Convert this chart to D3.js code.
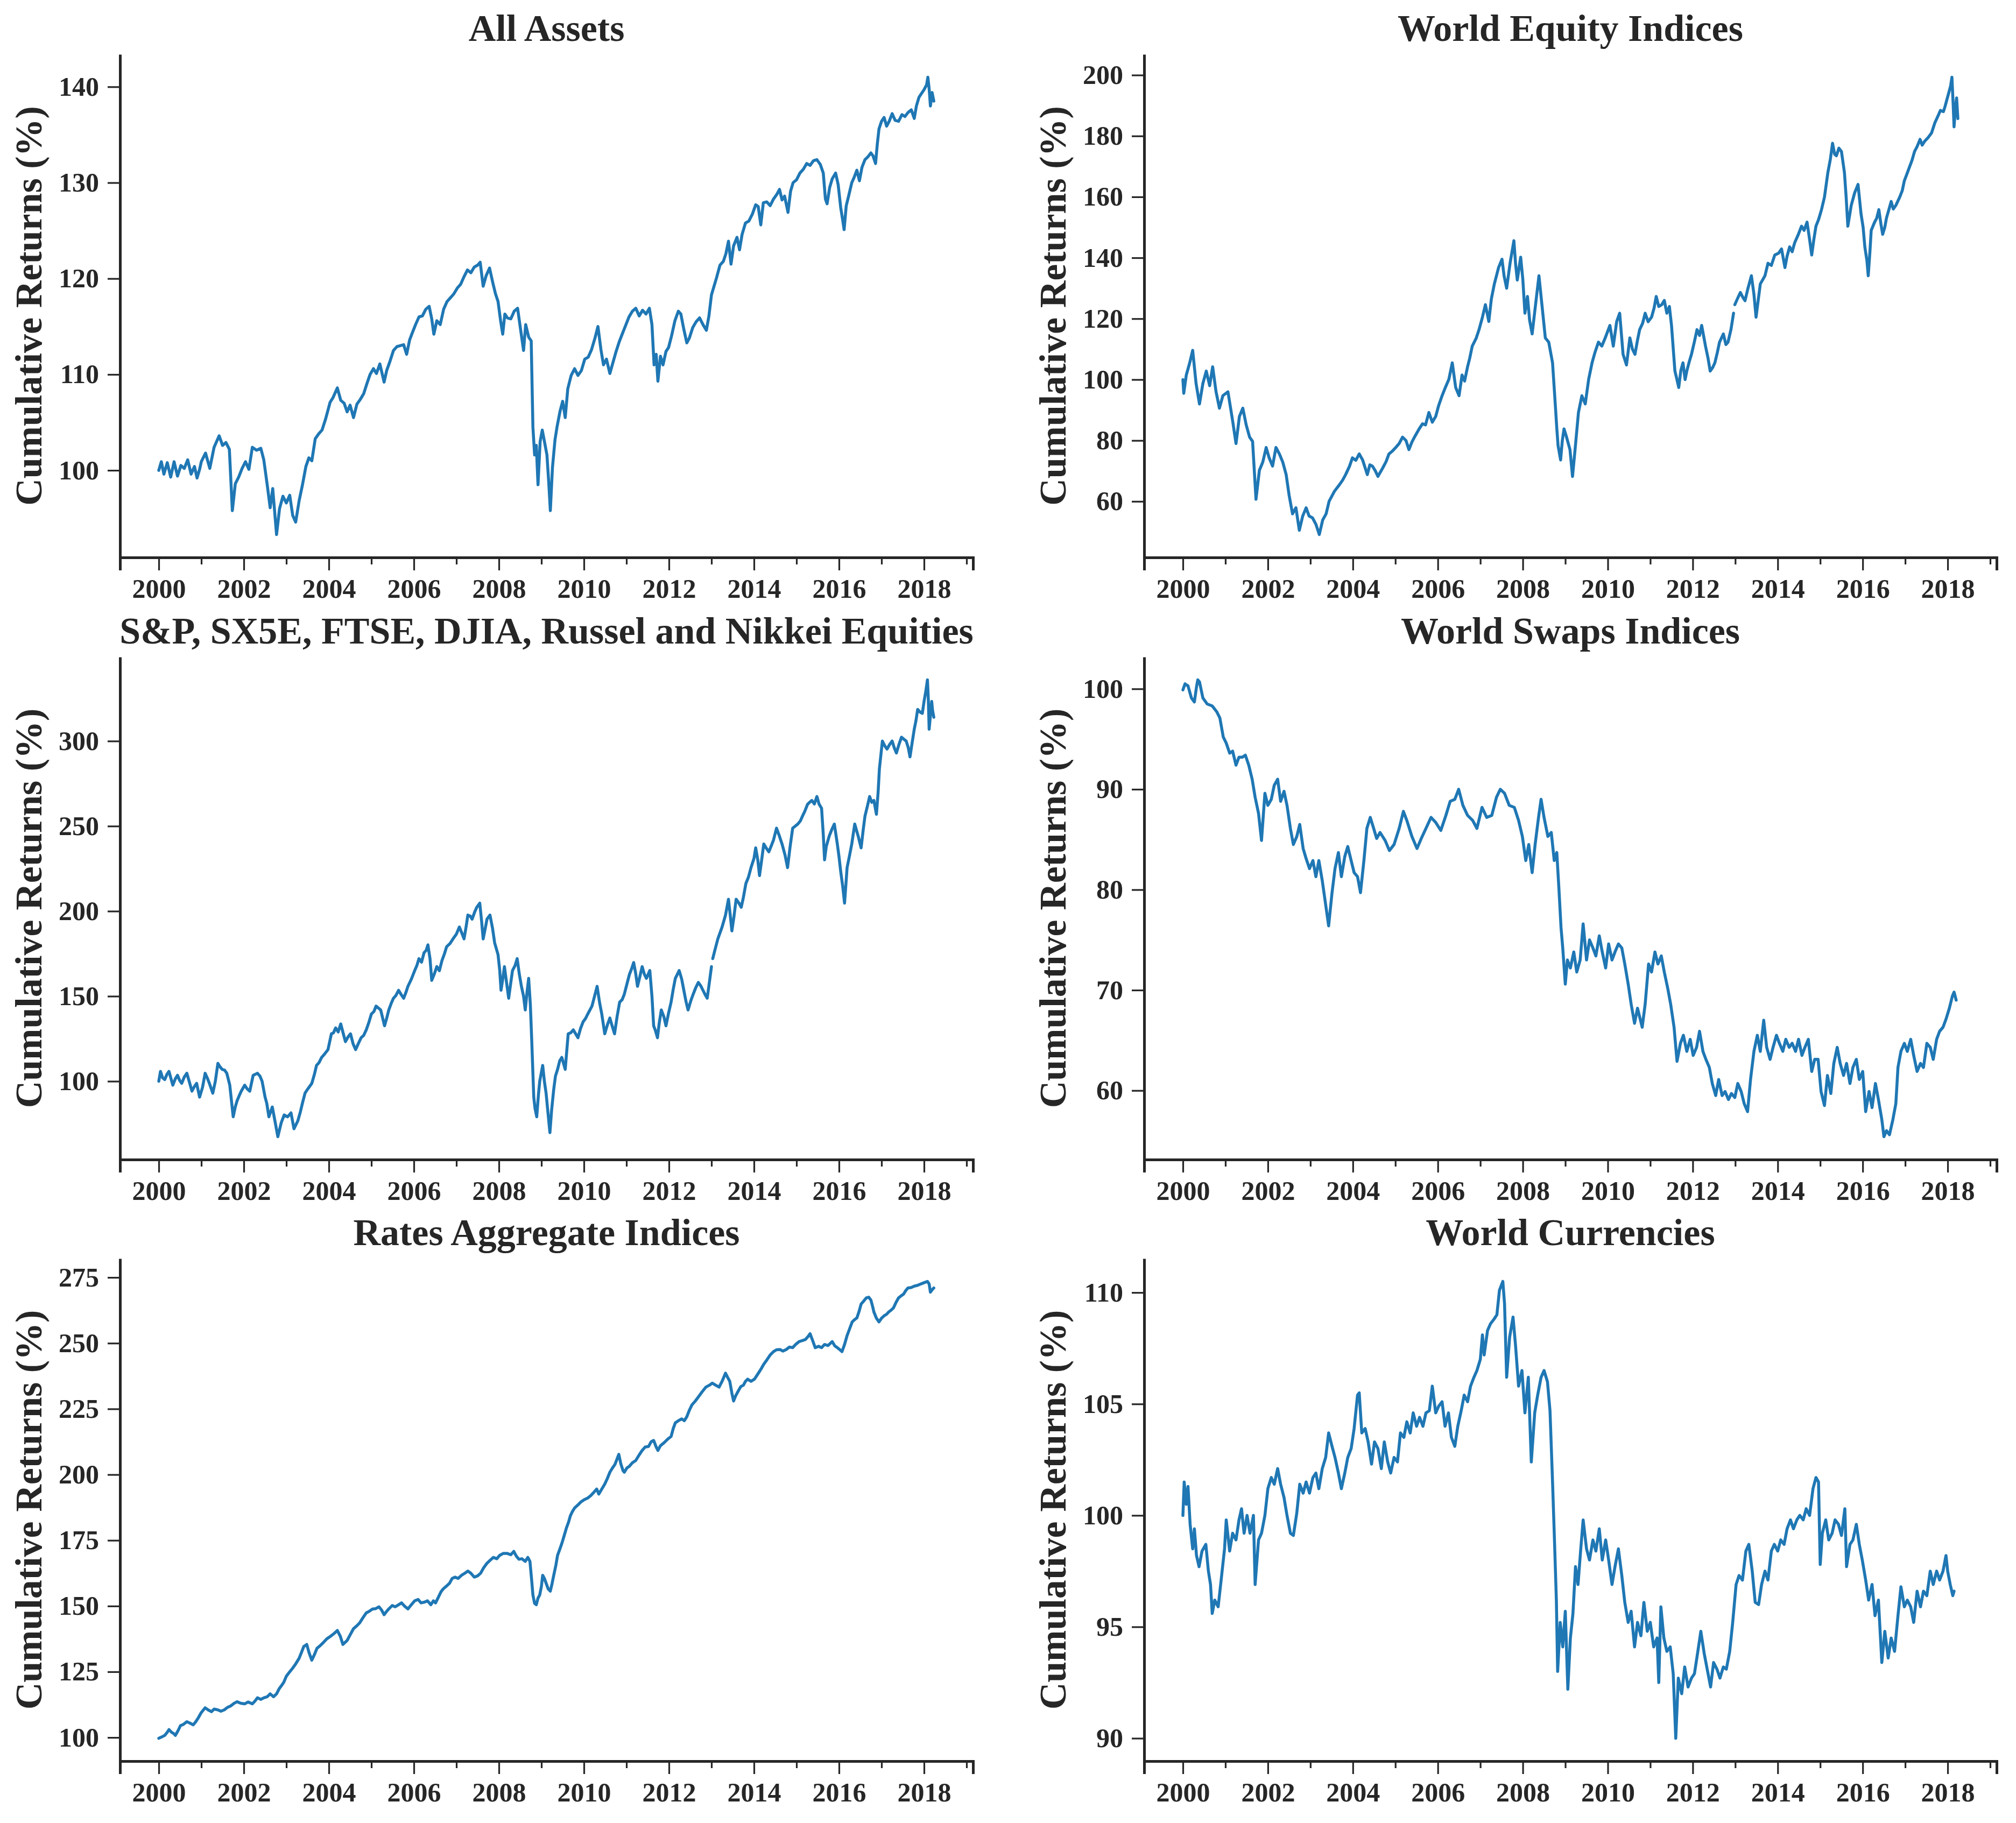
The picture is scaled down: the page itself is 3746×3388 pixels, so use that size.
<!DOCTYPE html>
<html>
<head>
<meta charset="utf-8">
<script src="https://cdn.jsdelivr.net/npm/d3@7"></script>
<style>
html, body { margin: 0; padding: 0; background: #fff; }
svg text { font-family: "Liberation Serif", "Times New Roman", serif; font-weight: bold; fill: #262626; }
</style>
</head>
<body>
<svg id="chart" width="3746" height="3388"></svg>
<script>
// [decimal year, cumulative return %]; null = break in the line
const allAssets = [[2000.00,100.0],[2000.06,100.9],[2000.12,99.6],[2000.2,100.8],[2000.28,99.3],[2000.36,100.9],[2000.44,99.4],[2000.52,100.5],[2000.6,100.2],[2000.68,101.1],[2000.76,99.6],[2000.84,100.4],[2000.9,99.2],[2000.96,100.1],[2001.0,100.9],[2001.1,101.8],[2001.2,100.2],[2001.3,102.4],[2001.42,103.6],[2001.5,102.6],[2001.58,102.9],[2001.66,102.2],[2001.73,95.8],[2001.8,98.6],[2001.88,99.3],[2001.96,100.2],[2002.04,100.9],[2002.12,100.1],[2002.2,102.4],[2002.3,102.1],[2002.4,102.3],[2002.47,101.1],[2002.55,98.5],[2002.62,96.1],[2002.68,98.1],[2002.77,93.3],[2002.84,96.0],[2002.92,97.3],[2003.0,96.6],[2003.08,97.4],[2003.15,95.3],[2003.22,94.6],[2003.3,96.8],[2003.38,98.5],[2003.46,100.4],[2003.53,101.3],[2003.6,101.0],[2003.68,103.3],[2003.76,103.8],[2003.84,104.2],[2003.92,105.3],[2004.03,107.1],[2004.1,107.6],[2004.2,108.6],[2004.28,107.3],[2004.36,107.0],[2004.43,106.1],[2004.5,106.8],[2004.58,105.5],[2004.66,106.9],[2004.74,107.4],[2004.82,108.0],[2004.9,109.1],[2004.97,110.0],[2005.05,110.6],[2005.12,110.1],[2005.2,111.1],[2005.3,109.2],[2005.36,110.4],[2005.44,111.4],[2005.52,112.5],[2005.6,112.9],[2005.68,113.0],[2005.76,113.1],[2005.83,112.1],[2005.9,113.6],[2005.96,114.3],[2006.04,115.2],[2006.12,116.0],[2006.2,116.1],[2006.28,116.8],[2006.36,117.1],[2006.42,115.8],[2006.47,114.2],[2006.54,115.6],[2006.62,115.2],[2006.7,116.8],[2006.78,117.6],[2006.86,118.0],[2006.94,118.4],[2007.02,119.0],[2007.1,119.4],[2007.18,120.2],[2007.26,120.9],[2007.34,120.6],[2007.42,121.2],[2007.5,121.4],[2007.56,121.7],[2007.63,119.2],[2007.7,120.3],[2007.78,121.1],[2007.86,119.5],[2007.92,118.4],[2007.98,117.6],[2008.04,115.6],[2008.09,114.2],[2008.14,116.3],[2008.2,115.9],[2008.28,115.8],[2008.36,116.6],[2008.44,116.9],[2008.5,115.0],[2008.58,112.5],[2008.63,115.2],[2008.7,113.9],[2008.76,113.5],[2008.8,104.5],[2008.84,101.6],[2008.88,102.6],[2008.92,98.5],[2008.97,103.0],[2009.02,104.2],[2009.08,102.8],[2009.13,101.6],[2009.17,98.9],[2009.21,95.8],[2009.26,100.3],[2009.32,103.2],[2009.37,104.6],[2009.44,106.2],[2009.5,107.2],[2009.56,105.5],[2009.62,108.5],[2009.7,109.9],[2009.78,110.6],[2009.86,109.9],[2009.94,110.4],[2010.02,111.6],[2010.1,111.8],[2010.18,112.6],[2010.26,113.8],[2010.33,115.0],[2010.4,112.6],[2010.46,111.0],[2010.53,111.6],[2010.61,110.1],[2010.68,111.2],[2010.75,112.3],[2010.83,113.4],[2010.9,114.2],[2010.98,115.1],[2011.06,116.0],[2011.14,116.6],[2011.22,116.9],[2011.3,116.1],[2011.38,116.7],[2011.46,116.3],[2011.54,116.9],[2011.6,115.2],[2011.65,111.0],[2011.7,112.1],[2011.74,109.3],[2011.8,111.9],[2011.86,111.0],[2011.93,112.4],[2011.99,112.8],[2012.06,114.0],[2012.14,115.6],[2012.22,116.6],[2012.28,116.3],[2012.35,114.7],[2012.42,113.3],[2012.48,113.8],[2012.56,114.9],[2012.64,115.5],[2012.72,115.9],[2012.8,115.2],[2012.88,114.6],[2012.94,116.1],[2013.0,118.3],[2013.06,119.2],[2013.12,120.1],[2013.2,121.4],[2013.28,121.8],[2013.34,122.6],[2013.4,123.9],[2013.46,121.5],[2013.52,123.4],[2013.6,124.3],[2013.66,123.0],[2013.72,124.6],[2013.8,125.8],[2013.88,126.0],[2013.96,126.7],[2014.04,127.7],[2014.1,127.5],[2014.16,125.6],[2014.22,127.9],[2014.3,128.0],[2014.38,127.6],[2014.46,128.3],[2014.54,128.8],[2014.6,129.3],[2014.66,128.2],[2014.72,128.6],[2014.8,126.9],[2014.86,129.1],[2014.92,130.0],[2015.0,130.3],[2015.08,131.0],[2015.16,131.4],[2015.24,132.0],[2015.32,131.8],[2015.4,132.3],[2015.48,132.4],[2015.56,131.9],[2015.63,131.0],[2015.68,128.3],[2015.72,127.8],[2015.78,129.5],[2015.84,130.4],[2015.92,131.0],[2015.98,129.8],[2016.04,127.4],[2016.09,126.0],[2016.12,125.1],[2016.17,127.6],[2016.22,128.5],[2016.3,130.0],[2016.36,130.6],[2016.42,131.3],[2016.48,130.2],[2016.54,131.6],[2016.61,132.4],[2016.68,132.7],[2016.75,133.1],[2016.8,132.8],[2016.86,132.0],[2016.9,134.0],[2016.94,135.6],[2017.0,136.4],[2017.06,136.8],[2017.12,135.9],[2017.18,136.4],[2017.25,137.2],[2017.32,136.5],[2017.4,136.4],[2017.48,137.1],[2017.55,136.9],[2017.62,137.3],[2017.7,137.6],[2017.77,136.7],[2017.82,138.0],[2017.88,138.9],[2017.94,139.3],[2018.0,139.7],[2018.06,140.2],[2018.09,141.0],[2018.12,139.8],[2018.15,138.0],[2018.19,139.4],[2018.23,138.5]];

const worldEquity = [[2000.0,100.0],[2000.02,95.5],[2000.08,101.5],[2000.16,105.5],[2000.23,109.6],[2000.31,98.7],[2000.39,92.0],[2000.47,98.7],[2000.55,102.8],[2000.63,98.0],[2000.7,104.2],[2000.78,96.0],[2000.86,90.6],[2000.94,94.7],[2001.06,96.0],[2001.17,86.5],[2001.25,79.0],[2001.33,87.9],[2001.41,90.6],[2001.49,85.1],[2001.57,81.1],[2001.64,79.7],[2001.72,60.7],[2001.8,70.2],[2001.88,72.9],[2001.96,77.7],[2002.03,74.3],[2002.11,71.6],[2002.19,77.7],[2002.27,75.6],[2002.35,72.9],[2002.43,68.8],[2002.5,62.0],[2002.58,55.9],[2002.66,57.9],[2002.74,50.5],[2002.82,55.2],[2002.9,57.9],[2002.97,55.2],[2003.05,54.6],[2003.13,52.5],[2003.21,49.1],[2003.29,53.9],[2003.37,55.9],[2003.44,60.0],[2003.57,63.4],[2003.68,65.4],[2003.76,67.0],[2003.83,68.8],[2003.92,71.5],[2003.99,74.3],[2004.07,73.5],[2004.15,75.6],[2004.23,73.6],[2004.34,68.8],[2004.4,72.0],[2004.46,71.6],[2004.53,70.0],[2004.59,68.2],[2004.7,70.9],[2004.78,73.0],[2004.85,75.6],[2004.93,76.5],[2005.01,77.7],[2005.09,79.0],[2005.17,81.1],[2005.25,80.0],[2005.32,77.0],[2005.39,79.5],[2005.45,81.1],[2005.56,83.8],[2005.64,85.5],[2005.71,85.1],[2005.79,89.2],[2005.87,86.0],[2005.95,87.9],[2006.02,91.5],[2006.1,94.7],[2006.18,97.5],[2006.26,100.1],[2006.34,105.5],[2006.42,97.4],[2006.5,94.7],[2006.57,101.5],[2006.63,99.5],[2006.7,104.2],[2006.75,107.0],[2006.81,111.0],[2006.9,113.5],[2006.97,116.4],[2007.05,120.5],[2007.12,124.6],[2007.2,119.1],[2007.26,126.5],[2007.33,131.4],[2007.43,136.8],[2007.51,139.5],[2007.56,134.0],[2007.62,130.0],[2007.7,138.2],[2007.79,145.6],[2007.83,138.0],[2007.87,132.7],[2007.95,140.2],[2008.0,133.0],[2008.05,121.8],[2008.11,127.3],[2008.16,119.5],[2008.22,115.0],[2008.3,124.6],[2008.38,134.1],[2008.45,124.6],[2008.53,113.7],[2008.61,112.3],[2008.7,105.5],[2008.74,97.0],[2008.77,90.6],[2008.8,84.0],[2008.83,78.3],[2008.89,73.6],[2008.93,80.0],[2008.97,83.8],[2009.03,81.1],[2009.11,77.0],[2009.17,68.2],[2009.23,77.0],[2009.31,89.2],[2009.39,94.7],[2009.47,92.0],[2009.55,100.1],[2009.63,105.5],[2009.7,109.0],[2009.78,112.3],[2009.86,111.0],[2009.94,113.7],[2010.05,117.8],[2010.13,111.0],[2010.21,119.1],[2010.28,121.8],[2010.36,108.3],[2010.44,104.8],[2010.52,113.7],[2010.58,110.0],[2010.64,108.3],[2010.7,113.0],[2010.75,116.4],[2010.82,118.5],[2010.88,121.8],[2010.95,119.0],[2011.03,120.5],[2011.09,123.5],[2011.14,127.3],[2011.2,124.0],[2011.27,124.6],[2011.33,126.0],[2011.39,121.8],[2011.45,124.0],[2011.5,117.8],[2011.58,102.8],[2011.62,100.5],[2011.67,97.4],[2011.72,103.0],[2011.77,105.5],[2011.82,100.0],[2011.86,102.8],[2011.92,106.0],[2011.97,108.3],[2012.04,112.5],[2012.1,116.4],[2012.16,114.5],[2012.21,117.8],[2012.3,111.0],[2012.36,107.0],[2012.41,102.8],[2012.47,104.0],[2012.52,105.5],[2012.58,109.0],[2012.63,112.3],[2012.72,115.0],[2012.78,111.5],[2012.83,112.3],[2012.9,116.5],[2012.96,121.8],null,[2012.99,124.6],[2013.05,126.5],[2013.12,128.6],[2013.18,127.0],[2013.23,125.9],[2013.3,130.0],[2013.38,134.1],[2013.44,128.0],[2013.49,120.5],[2013.54,126.0],[2013.59,131.4],[2013.7,134.1],[2013.77,138.2],[2013.85,137.5],[2013.93,140.9],[2014.02,141.5],[2014.09,142.9],[2014.17,136.8],[2014.22,140.5],[2014.28,143.6],[2014.34,142.0],[2014.4,145.0],[2014.48,147.5],[2014.56,150.4],[2014.62,149.0],[2014.69,151.7],[2014.75,146.0],[2014.8,140.9],[2014.85,146.0],[2014.9,150.4],[2014.96,152.5],[2015.03,155.8],[2015.1,159.9],[2015.18,168.0],[2015.24,172.5],[2015.29,177.6],[2015.34,174.0],[2015.38,173.5],[2015.44,176.0],[2015.5,174.9],[2015.57,168.0],[2015.61,160.0],[2015.65,150.4],[2015.73,157.2],[2015.81,161.3],[2015.89,164.1],[2015.96,154.5],[2016.01,150.0],[2016.05,143.6],[2016.1,139.0],[2016.13,134.1],[2016.17,142.0],[2016.2,149.0],[2016.28,151.7],[2016.33,153.0],[2016.38,155.8],[2016.43,151.0],[2016.47,147.7],[2016.52,150.0],[2016.56,153.1],[2016.62,156.0],[2016.67,158.5],[2016.72,156.0],[2016.78,157.2],[2016.87,159.9],[2016.93,162.0],[2016.98,165.3],[2017.04,167.5],[2017.09,169.4],[2017.16,172.0],[2017.22,174.9],[2017.28,176.5],[2017.35,178.9],[2017.4,177.0],[2017.46,178.3],[2017.54,179.5],[2017.62,181.0],[2017.7,184.4],[2017.77,186.5],[2017.83,188.4],[2017.9,188.0],[2017.94,189.8],[2018.02,193.9],[2018.07,196.5],[2018.1,199.3],[2018.13,190.0],[2018.15,183.0],[2018.18,189.0],[2018.21,192.5],[2018.24,185.7]];

const majorEquities = [[2000.0,100.0],[2000.04,105.8],[2000.09,102.0],[2000.14,101.0],[2000.19,104.0],[2000.24,105.8],[2000.33,97.7],[2000.39,101.5],[2000.44,103.5],[2000.49,100.5],[2000.54,98.8],[2000.6,102.5],[2000.66,104.7],[2000.72,99.5],[2000.78,94.2],[2000.84,97.0],[2000.89,98.8],[2000.96,90.7],[2001.03,96.5],[2001.09,104.7],[2001.14,102.0],[2001.19,98.8],[2001.27,93.0],[2001.33,100.0],[2001.39,110.5],[2001.44,108.5],[2001.49,107.0],[2001.55,106.5],[2001.6,104.7],[2001.67,97.7],[2001.75,79.1],[2001.8,85.0],[2001.84,88.4],[2001.9,92.0],[2001.94,94.2],[2002.02,97.7],[2002.08,95.5],[2002.14,94.2],[2002.22,103.5],[2002.32,104.7],[2002.38,103.0],[2002.43,100.0],[2002.5,90.7],[2002.54,87.0],[2002.59,79.1],[2002.67,84.9],[2002.74,75.6],[2002.8,67.4],[2002.88,75.6],[2002.95,80.2],[2003.03,79.1],[2003.11,81.4],[2003.18,72.1],[2003.27,76.7],[2003.33,82.0],[2003.38,87.2],[2003.44,93.0],[2003.5,95.3],[2003.6,98.8],[2003.66,104.0],[2003.71,109.3],[2003.77,111.0],[2003.83,114.0],[2003.9,116.0],[2003.98,118.6],[2004.06,127.9],[2004.11,128.5],[2004.16,131.4],[2004.22,129.0],[2004.28,133.7],[2004.34,128.0],[2004.39,123.3],[2004.45,126.0],[2004.51,127.9],[2004.57,122.0],[2004.63,118.6],[2004.7,122.5],[2004.76,125.6],[2004.82,127.0],[2004.88,130.2],[2004.94,134.5],[2005.0,139.5],[2005.06,141.0],[2005.11,144.2],[2005.17,143.0],[2005.22,141.9],[2005.31,132.6],[2005.36,137.0],[2005.41,141.9],[2005.47,146.0],[2005.52,148.8],[2005.58,150.5],[2005.64,153.5],[2005.7,151.0],[2005.76,148.8],[2005.81,152.0],[2005.86,155.8],[2005.94,160.0],[2006.02,165.1],[2006.07,168.0],[2006.12,172.1],[2006.18,170.0],[2006.24,175.6],[2006.29,177.0],[2006.33,180.2],[2006.38,172.0],[2006.42,159.3],[2006.48,163.0],[2006.54,167.4],[2006.6,165.0],[2006.66,170.9],[2006.72,175.0],[2006.77,179.1],[2006.85,181.0],[2006.92,183.7],[2007.0,186.5],[2007.07,190.7],[2007.13,187.0],[2007.18,183.7],[2007.23,191.0],[2007.27,197.7],[2007.33,197.0],[2007.37,195.3],[2007.43,199.5],[2007.48,202.3],[2007.55,204.7],[2007.59,195.0],[2007.63,183.7],[2007.68,190.0],[2007.72,195.3],[2007.79,197.7],[2007.85,190.0],[2007.9,181.4],[2007.98,174.4],[2008.02,165.0],[2008.05,153.5],[2008.09,160.0],[2008.13,167.4],[2008.18,158.0],[2008.23,148.8],[2008.28,158.0],[2008.32,165.1],[2008.38,168.0],[2008.43,172.1],[2008.48,163.0],[2008.53,155.8],[2008.58,150.0],[2008.62,141.9],[2008.66,152.0],[2008.7,160.5],[2008.74,145.0],[2008.77,125.6],[2008.82,90.7],[2008.85,84.0],[2008.89,79.1],[2008.93,92.0],[2008.96,100.0],[2009.03,109.3],[2009.07,100.0],[2009.11,93.0],[2009.16,80.0],[2009.2,69.8],[2009.24,83.0],[2009.29,95.3],[2009.33,103.0],[2009.38,107.0],[2009.43,112.0],[2009.48,114.0],[2009.56,107.0],[2009.63,127.9],[2009.69,128.5],[2009.75,130.2],[2009.86,125.6],[2009.92,131.0],[2009.98,134.9],[2010.04,137.0],[2010.09,139.5],[2010.19,144.2],[2010.25,150.0],[2010.31,155.8],[2010.37,146.0],[2010.42,139.5],[2010.49,127.9],[2010.55,133.0],[2010.61,137.2],[2010.67,132.0],[2010.72,127.9],[2010.78,138.0],[2010.84,146.5],[2010.9,148.0],[2010.95,151.2],[2011.01,157.0],[2011.07,162.8],[2011.12,166.0],[2011.17,169.8],[2011.22,163.0],[2011.26,155.8],[2011.32,162.0],[2011.37,167.4],[2011.42,163.0],[2011.47,160.5],[2011.55,165.1],[2011.6,150.0],[2011.64,132.6],[2011.68,130.0],[2011.73,125.6],[2011.77,134.0],[2011.82,141.9],[2011.88,138.0],[2011.93,132.6],[2011.99,140.0],[2012.05,146.5],[2012.1,154.0],[2012.15,160.5],[2012.2,163.0],[2012.24,165.1],[2012.3,160.0],[2012.35,153.5],[2012.4,147.0],[2012.45,141.9],[2012.51,147.0],[2012.57,151.2],[2012.63,155.0],[2012.69,158.1],[2012.75,156.0],[2012.8,153.5],[2012.85,151.0],[2012.9,148.8],[2012.95,158.0],[2013.0,167.4],null,[2013.03,172.1],[2013.09,178.0],[2013.15,183.7],[2013.25,190.7],[2013.33,197.7],[2013.4,207.0],[2013.44,198.0],[2013.48,188.4],[2013.53,197.0],[2013.58,207.0],[2013.64,205.0],[2013.7,202.3],[2013.75,208.0],[2013.81,216.3],[2013.87,220.0],[2013.93,225.6],[2014.0,231.0],[2014.04,237.2],[2014.09,230.0],[2014.13,220.9],[2014.18,230.0],[2014.23,239.5],[2014.29,237.0],[2014.35,234.9],[2014.4,238.0],[2014.46,241.9],[2014.53,248.8],[2014.6,244.0],[2014.66,239.5],[2014.73,233.0],[2014.79,225.6],[2014.85,238.0],[2014.91,248.8],[2014.97,250.0],[2015.03,251.2],[2015.09,253.0],[2015.14,255.8],[2015.2,259.0],[2015.26,262.8],[2015.31,264.0],[2015.36,265.1],[2015.42,263.0],[2015.48,267.4],[2015.53,263.0],[2015.59,260.5],[2015.63,245.0],[2015.66,230.2],[2015.7,238.0],[2015.77,244.2],[2015.83,248.0],[2015.89,251.2],[2015.96,239.5],[2016.0,232.0],[2016.04,223.3],[2016.09,214.0],[2016.13,204.7],[2016.16,215.0],[2016.19,225.6],[2016.25,233.0],[2016.3,239.5],[2016.37,251.2],[2016.45,244.2],[2016.52,237.2],[2016.57,248.0],[2016.61,255.8],[2016.67,262.0],[2016.72,267.4],[2016.77,264.0],[2016.82,265.1],[2016.88,257.0],[2016.92,270.0],[2016.95,283.7],[2017.02,300.0],[2017.08,297.0],[2017.13,295.3],[2017.19,298.0],[2017.25,300.0],[2017.3,296.0],[2017.35,293.0],[2017.41,298.0],[2017.47,302.3],[2017.53,301.0],[2017.58,300.0],[2017.63,296.0],[2017.67,290.7],[2017.72,299.0],[2017.77,307.0],[2017.81,312.0],[2017.85,318.6],[2017.91,317.0],[2017.96,316.3],[2018.0,323.3],[2018.04,329.0],[2018.08,336.0],[2018.1,325.0],[2018.12,307.0],[2018.15,315.0],[2018.18,323.3],[2018.2,318.0],[2018.23,314.0]];

const worldSwaps = [[2000.0,99.9],[2000.05,100.5],[2000.12,100.3],[2000.2,99.1],[2000.27,98.7],[2000.32,100.2],[2000.35,100.9],[2000.39,100.7],[2000.47,99.1],[2000.57,98.5],[2000.69,98.3],[2000.8,97.7],[2000.87,97.1],[2000.95,95.2],[2001.02,94.6],[2001.1,93.6],[2001.17,93.8],[2001.25,92.4],[2001.32,93.2],[2001.4,93.2],[2001.47,93.4],[2001.55,92.4],[2001.63,91.0],[2001.7,89.2],[2001.78,87.6],[2001.85,84.9],[2001.93,89.6],[2002.0,88.4],[2002.08,89.0],[2002.15,90.4],[2002.23,91.0],[2002.3,88.8],[2002.38,89.8],[2002.45,88.4],[2002.53,86.1],[2002.6,84.5],[2002.68,85.3],[2002.75,86.5],[2002.83,84.1],[2002.9,83.1],[2002.98,82.1],[2003.06,82.9],[2003.13,81.3],[2003.2,82.9],[2003.28,80.9],[2003.36,78.5],[2003.43,76.4],[2003.51,79.7],[2003.58,82.1],[2003.66,83.7],[2003.73,81.3],[2003.81,83.3],[2003.88,84.3],[2003.96,82.9],[2004.03,81.7],[2004.11,81.3],[2004.18,79.7],[2004.26,82.9],[2004.33,86.1],[2004.41,87.2],[2004.49,86.1],[2004.56,85.1],[2004.64,85.7],[2004.76,84.9],[2004.86,83.9],[2004.97,84.5],[2005.09,86.1],[2005.19,87.8],[2005.27,86.9],[2005.39,85.3],[2005.51,84.1],[2005.61,85.1],[2005.72,86.1],[2005.84,87.2],[2005.95,86.7],[2006.07,85.9],[2006.19,87.4],[2006.29,88.8],[2006.4,89.0],[2006.49,90.0],[2006.59,88.4],[2006.7,87.4],[2006.82,86.9],[2006.92,86.1],[2007.04,88.2],[2007.15,87.2],[2007.27,87.4],[2007.38,89.2],[2007.47,90.0],[2007.57,89.6],[2007.68,88.4],[2007.8,88.2],[2007.9,86.9],[2007.99,85.3],[2008.07,82.9],[2008.14,84.5],[2008.22,81.7],[2008.29,84.5],[2008.37,87.2],[2008.43,89.0],[2008.5,87.2],[2008.59,85.3],[2008.67,85.7],[2008.74,82.9],[2008.8,83.7],[2008.85,80.1],[2008.9,76.2],[2008.94,74.2],[2009.0,70.6],[2009.05,73.0],[2009.12,72.2],[2009.2,73.8],[2009.27,71.8],[2009.35,73.0],[2009.42,76.6],[2009.5,73.0],[2009.57,75.0],[2009.65,74.2],[2009.72,73.4],[2009.8,75.4],[2009.87,73.8],[2009.95,72.2],[2010.02,74.6],[2010.1,73.0],[2010.17,73.8],[2010.25,74.6],[2010.33,74.2],[2010.4,72.6],[2010.48,70.6],[2010.55,68.6],[2010.63,66.7],[2010.7,68.2],[2010.81,66.3],[2010.88,68.6],[2010.96,72.6],[2011.03,71.8],[2011.11,73.8],[2011.18,72.6],[2011.26,73.4],[2011.33,71.8],[2011.41,70.2],[2011.48,68.6],[2011.56,66.3],[2011.63,62.9],[2011.71,64.7],[2011.78,65.5],[2011.86,63.9],[2011.94,65.1],[2012.01,63.5],[2012.09,64.3],[2012.16,65.9],[2012.24,63.9],[2012.31,63.1],[2012.39,62.3],[2012.46,60.7],[2012.54,59.5],[2012.61,61.1],[2012.69,59.5],[2012.76,59.9],[2012.84,59.1],[2012.91,59.7],[2012.99,59.3],[2013.06,60.7],[2013.14,59.9],[2013.21,58.7],[2013.29,57.9],[2013.36,61.1],[2013.44,63.9],[2013.52,65.5],[2013.59,63.9],[2013.67,67.0],[2013.74,64.3],[2013.82,63.1],[2013.89,64.3],[2013.97,65.5],[2014.04,64.7],[2014.12,63.9],[2014.19,65.1],[2014.27,64.3],[2014.34,64.7],[2014.42,63.9],[2014.49,65.1],[2014.57,63.5],[2014.64,64.3],[2014.72,65.1],[2014.8,61.9],[2014.87,63.1],[2014.95,63.1],[2015.02,59.9],[2015.1,58.5],[2015.17,61.5],[2015.25,59.7],[2015.32,62.7],[2015.4,64.3],[2015.47,62.7],[2015.55,61.5],[2015.62,62.7],[2015.7,60.7],[2015.77,62.3],[2015.85,63.1],[2015.92,61.1],[2016.0,61.9],[2016.07,57.9],[2016.15,59.9],[2016.22,58.3],[2016.3,60.7],[2016.37,59.1],[2016.45,57.1],[2016.5,55.4],[2016.56,56.0],[2016.63,55.6],[2016.71,57.1],[2016.78,58.7],[2016.83,62.3],[2016.9,63.9],[2016.98,64.7],[2017.05,63.9],[2017.13,65.1],[2017.2,63.5],[2017.28,61.9],[2017.36,62.7],[2017.43,62.3],[2017.51,64.7],[2017.59,64.3],[2017.66,63.1],[2017.74,65.1],[2017.81,65.9],[2017.89,66.3],[2017.96,67.1],[2018.04,68.2],[2018.11,69.4],[2018.15,69.8],[2018.2,69.0]];

const ratesAggregate = [[2000.0,99.7],[2000.07,100.2],[2000.14,100.8],[2000.2,102.0],[2000.24,103.0],[2000.3,102.0],[2000.35,101.5],[2000.39,100.8],[2000.45,102.5],[2000.51,104.5],[2000.58,105.0],[2000.66,106.0],[2000.73,105.5],[2000.81,104.8],[2000.87,106.0],[2000.93,107.5],[2001.0,109.5],[2001.09,111.3],[2001.16,110.5],[2001.24,109.8],[2001.3,110.8],[2001.39,110.5],[2001.46,110.0],[2001.54,110.5],[2001.62,111.5],[2001.69,112.0],[2001.77,113.0],[2001.84,113.6],[2001.93,113.0],[2002.02,112.8],[2002.1,113.5],[2002.2,112.8],[2002.26,113.8],[2002.32,115.1],[2002.4,114.5],[2002.47,115.1],[2002.55,115.5],[2002.62,116.6],[2002.7,115.5],[2002.77,116.6],[2002.83,118.5],[2002.88,119.6],[2002.94,121.0],[2003.0,123.3],[2003.08,125.0],[2003.15,126.4],[2003.22,128.0],[2003.3,130.1],[2003.36,132.5],[2003.41,134.6],[2003.48,135.4],[2003.54,132.0],[2003.6,129.4],[2003.66,131.5],[2003.72,133.9],[2003.8,135.0],[2003.87,136.1],[2003.95,137.5],[2004.03,138.4],[2004.12,139.5],[2004.2,140.7],[2004.27,138.5],[2004.33,135.4],[2004.43,136.9],[2004.5,139.0],[2004.58,141.4],[2004.66,142.5],[2004.73,143.7],[2004.8,145.5],[2004.88,147.4],[2004.95,148.0],[2005.03,148.9],[2005.1,149.0],[2005.18,149.7],[2005.24,148.5],[2005.3,146.7],[2005.36,148.0],[2005.41,148.9],[2005.49,150.2],[2005.56,149.7],[2005.64,150.5],[2005.71,151.2],[2005.78,150.0],[2005.86,148.9],[2005.94,150.5],[2006.02,152.0],[2006.1,152.5],[2006.17,151.2],[2006.25,151.5],[2006.32,152.0],[2006.4,150.5],[2006.46,152.0],[2006.51,151.2],[2006.58,153.5],[2006.64,155.5],[2006.69,156.5],[2006.76,157.5],[2006.84,158.7],[2006.9,160.5],[2006.97,161.0],[2007.04,160.5],[2007.12,161.7],[2007.2,162.5],[2007.27,163.3],[2007.34,162.5],[2007.42,161.0],[2007.5,161.5],[2007.57,162.5],[2007.64,164.5],[2007.72,166.3],[2007.8,167.5],[2007.87,168.5],[2007.95,168.0],[2008.02,169.3],[2008.1,170.0],[2008.2,170.0],[2008.28,169.5],[2008.35,170.8],[2008.41,169.0],[2008.47,167.8],[2008.54,168.0],[2008.62,167.0],[2008.68,168.5],[2008.73,167.0],[2008.77,160.0],[2008.8,154.2],[2008.84,151.0],[2008.88,150.5],[2008.92,153.0],[2008.96,154.2],[2009.0,157.5],[2009.03,161.7],[2009.07,160.5],[2009.11,158.7],[2009.16,156.5],[2009.21,155.7],[2009.25,158.5],[2009.29,161.7],[2009.34,165.5],[2009.38,169.3],[2009.43,171.5],[2009.48,173.8],[2009.53,176.5],[2009.59,179.8],[2009.64,182.0],[2009.68,184.3],[2009.73,186.0],[2009.78,187.3],[2009.86,188.5],[2009.93,189.6],[2010.01,190.5],[2010.09,191.1],[2010.16,192.0],[2010.24,193.4],[2010.3,194.5],[2010.35,192.6],[2010.42,194.5],[2010.49,196.4],[2010.55,198.5],[2010.61,200.9],[2010.67,202.5],[2010.73,203.9],[2010.78,206.0],[2010.82,207.7],[2010.87,204.0],[2010.92,201.5],[2010.95,200.9],[2011.01,202.5],[2011.07,203.2],[2011.14,204.5],[2011.22,205.4],[2011.3,207.5],[2011.37,209.2],[2011.44,210.5],[2011.52,210.7],[2011.58,212.5],[2011.64,213.0],[2011.7,210.5],[2011.74,209.2],[2011.8,211.0],[2011.89,212.2],[2011.97,213.5],[2012.05,214.5],[2012.1,217.5],[2012.15,219.7],[2012.22,220.5],[2012.3,221.2],[2012.36,220.5],[2012.42,222.0],[2012.48,224.5],[2012.54,226.5],[2012.62,228.0],[2012.69,229.5],[2012.78,231.5],[2012.87,233.3],[2012.95,234.0],[2013.02,234.8],[2013.1,234.0],[2013.18,233.3],[2013.25,235.5],[2013.33,238.6],[2013.38,237.0],[2013.43,235.5],[2013.48,231.0],[2013.52,228.0],[2013.57,230.0],[2013.63,231.8],[2013.69,233.5],[2013.75,234.0],[2013.8,235.5],[2013.85,236.3],[2013.93,235.5],[2014.01,236.3],[2014.08,238.0],[2014.16,240.0],[2014.23,242.0],[2014.31,243.8],[2014.38,245.5],[2014.46,246.8],[2014.53,247.5],[2014.61,247.6],[2014.68,247.0],[2014.76,247.6],[2014.83,248.5],[2014.91,248.3],[2014.98,249.5],[2015.06,250.6],[2015.14,251.0],[2015.21,251.4],[2015.27,252.5],[2015.32,253.6],[2015.38,251.0],[2015.44,248.3],[2015.52,248.8],[2015.59,248.3],[2015.66,249.5],[2015.74,249.1],[2015.84,250.6],[2015.9,249.0],[2015.96,248.3],[2016.02,247.5],[2016.07,246.8],[2016.13,249.5],[2016.19,252.9],[2016.25,255.5],[2016.31,258.1],[2016.37,259.0],[2016.42,259.6],[2016.47,262.0],[2016.52,264.9],[2016.58,266.0],[2016.64,267.2],[2016.7,267.5],[2016.75,266.4],[2016.79,264.0],[2016.82,261.9],[2016.88,259.5],[2016.94,258.1],[2017.0,259.5],[2017.06,260.4],[2017.12,261.0],[2017.17,261.9],[2017.22,262.5],[2017.28,263.4],[2017.34,265.5],[2017.4,267.2],[2017.46,268.0],[2017.52,268.7],[2017.57,270.0],[2017.62,271.0],[2017.7,271.2],[2017.77,271.7],[2017.85,272.0],[2017.92,272.5],[2018.0,273.0],[2018.08,273.5],[2018.12,272.5],[2018.15,269.4],[2018.2,270.5],[2018.23,271.0]];

const worldCurrencies = [[2000.0,100.0],[2000.03,101.5],[2000.08,100.5],[2000.12,101.3],[2000.17,99.6],[2000.23,98.5],[2000.27,99.4],[2000.32,98.2],[2000.38,97.7],[2000.45,98.4],[2000.54,98.7],[2000.6,97.5],[2000.65,96.9],[2000.69,95.6],[2000.75,96.2],[2000.83,95.9],[2000.9,97.1],[2000.98,98.5],[2001.02,99.8],[2001.1,98.4],[2001.17,99.2],[2001.25,98.9],[2001.32,99.8],[2001.38,100.3],[2001.44,99.2],[2001.51,100.0],[2001.58,99.2],[2001.66,100.0],[2001.7,96.9],[2001.78,98.9],[2001.85,99.2],[2001.93,100.0],[2002.0,101.2],[2002.08,101.7],[2002.15,101.4],[2002.23,102.1],[2002.3,101.4],[2002.38,100.8],[2002.45,100.0],[2002.53,99.2],[2002.6,99.1],[2002.68,100.1],[2002.75,101.4],[2002.83,101.0],[2002.9,101.5],[2002.98,101.0],[2003.06,101.7],[2003.13,101.9],[2003.2,101.2],[2003.28,102.1],[2003.36,102.6],[2003.43,103.7],[2003.51,103.1],[2003.58,102.6],[2003.66,101.9],[2003.73,101.2],[2003.81,101.9],[2003.88,102.6],[2003.96,103.0],[2004.03,103.9],[2004.11,105.4],[2004.15,105.5],[2004.21,103.7],[2004.29,103.9],[2004.36,103.3],[2004.44,102.3],[2004.51,103.3],[2004.59,103.0],[2004.67,102.1],[2004.74,103.3],[2004.82,102.4],[2004.89,101.9],[2004.97,102.6],[2005.05,102.4],[2005.12,103.7],[2005.2,103.5],[2005.27,104.2],[2005.35,103.7],[2005.42,104.6],[2005.5,104.0],[2005.57,104.4],[2005.65,104.0],[2005.72,104.6],[2005.8,104.7],[2005.87,105.8],[2005.95,104.6],[2006.02,104.9],[2006.1,105.1],[2006.17,104.0],[2006.25,104.6],[2006.32,103.5],[2006.4,103.1],[2006.47,104.0],[2006.55,104.7],[2006.62,105.4],[2006.7,105.1],[2006.77,105.8],[2006.85,106.2],[2006.92,106.5],[2007.0,107.0],[2007.05,108.1],[2007.09,107.2],[2007.17,108.3],[2007.24,108.6],[2007.32,108.8],[2007.39,109.0],[2007.45,110.1],[2007.53,110.5],[2007.57,109.5],[2007.62,106.2],[2007.69,108.0],[2007.77,108.9],[2007.83,107.6],[2007.9,105.8],[2007.98,106.5],[2008.05,104.6],[2008.13,106.2],[2008.2,102.4],[2008.28,104.6],[2008.35,105.4],[2008.43,106.2],[2008.5,106.5],[2008.58,106.0],[2008.64,104.7],[2008.7,101.5],[2008.74,99.2],[2008.79,96.2],[2008.82,93.0],[2008.88,95.2],[2008.94,94.1],[2009.0,95.7],[2009.06,92.2],[2009.12,94.5],[2009.18,95.6],[2009.24,97.7],[2009.3,96.9],[2009.36,98.4],[2009.42,99.8],[2009.5,98.5],[2009.57,98.0],[2009.65,98.9],[2009.72,98.4],[2009.8,99.4],[2009.87,98.0],[2009.95,98.9],[2010.02,98.0],[2010.1,96.9],[2010.17,97.7],[2010.25,98.5],[2010.33,97.3],[2010.4,96.1],[2010.48,95.2],[2010.55,95.7],[2010.63,94.1],[2010.7,95.2],[2010.78,94.6],[2010.85,96.1],[2010.93,94.8],[2011.0,95.2],[2011.08,94.1],[2011.16,94.5],[2011.2,92.5],[2011.25,95.9],[2011.32,94.5],[2011.39,93.9],[2011.47,94.1],[2011.54,92.9],[2011.6,90.0],[2011.66,92.7],[2011.74,92.0],[2011.81,93.2],[2011.89,92.3],[2011.97,92.7],[2012.04,92.9],[2012.12,93.9],[2012.19,94.8],[2012.27,93.8],[2012.34,93.1],[2012.42,92.3],[2012.49,93.4],[2012.57,93.1],[2012.64,92.7],[2012.72,93.2],[2012.79,93.1],[2012.87,93.9],[2012.94,95.2],[2013.02,96.9],[2013.09,97.3],[2013.17,97.1],[2013.25,98.4],[2013.32,98.7],[2013.4,97.5],[2013.47,96.1],[2013.55,96.0],[2013.62,96.9],[2013.7,97.5],[2013.77,97.1],[2013.85,98.4],[2013.92,98.7],[2014.0,98.4],[2014.07,98.9],[2014.15,98.7],[2014.22,99.4],[2014.3,99.8],[2014.37,99.4],[2014.45,99.8],[2014.52,100.0],[2014.6,99.8],[2014.67,100.3],[2014.75,100.0],[2014.83,101.2],[2014.9,101.7],[2014.96,101.5],[2015.0,97.8],[2015.05,99.2],[2015.13,99.8],[2015.2,98.9],[2015.28,99.2],[2015.35,99.8],[2015.43,99.6],[2015.5,99.1],[2015.58,100.3],[2015.62,97.7],[2015.7,98.7],[2015.77,98.9],[2015.85,99.6],[2015.92,98.7],[2015.99,98.0],[2016.07,97.1],[2016.14,96.2],[2016.22,96.9],[2016.29,95.5],[2016.37,96.2],[2016.45,93.4],[2016.52,94.8],[2016.6,93.6],[2016.67,94.5],[2016.75,93.9],[2016.83,95.5],[2016.9,96.8],[2016.98,95.9],[2017.05,96.2],[2017.13,95.9],[2017.2,95.2],[2017.28,96.6],[2017.36,95.9],[2017.43,96.6],[2017.51,96.4],[2017.59,97.5],[2017.66,96.9],[2017.74,97.5],[2017.81,97.1],[2017.89,97.5],[2017.96,98.2],[2018.0,97.5],[2018.06,96.9],[2018.12,96.4],[2018.15,96.6]];

const titles = ['All Assets', 'World Equity Indices', 'S&P, SX5E, FTSE, DJIA, Russel and Nikkei Equities',
                'World Swaps Indices', 'Rates Aggregate Indices', 'World Currencies'];
const series = [allAssets, worldEquity, majorEquities, worldSwaps, ratesAggregate, worldCurrencies];
const yTicks = [[100,110,120,130,140], [60,80,100,120,140,160,180,200], [100,150,200,250,300],
                [60,70,80,90,100], [100,125,150,175,200,225,250,275], [90,95,100,105,110]];
const yearsMajor = [2000,2002,2004,2006,2008,2010,2012,2014,2016,2018];
const yearsMinor = [2001,2003,2005,2007,2009,2011,2013,2015,2017,2019];
const yLabel = 'Cumulative Returns (%)';

const ink = '#262626', blue = '#1f77b4';
const colX = [[223, 1808], [2126, 3710]];
const rowY = [[101, 1036], [1221, 2155], [2339, 3273]];

const svg = d3.select('#chart');

const pad5 = e => { const s = (e[1] - e[0]) * 0.05; return [e[0] - s, e[1] + s]; };
const allPts = series.flat().filter(d => d);
const xDomain = pad5(d3.extent(allPts, d => d[0]));

series.forEach((data, i) => {
    const [x0, x1] = colX[i % 2];
    const [y0, y1] = rowY[Math.floor(i / 2)];
    const pts = data.filter(d => d);

    const x = d3.scaleLinear().domain(xDomain).range([x0, x1]);
    const y = d3.scaleLinear().domain(pad5(d3.extent(pts, d => d[1]))).range([y1, y0]);

    const g = svg.append('g');

    g.append('path')
        .datum(data)
        .attr('d', d3.line().defined(d => d).x(d => x(d[0])).y(d => y(d[1])))
        .attr('fill', 'none')
        .attr('stroke', blue)
        .attr('stroke-width', 5.5)
        .attr('stroke-linejoin', 'round')
        .attr('stroke-linecap', 'round');

    // minor year ticks
    g.append('g')
        .attr('transform', `translate(0,${y1})`)
        .call(d3.axisBottom(x).tickValues(yearsMinor.filter(v => v <= xDomain[1])).tickSize(13).tickFormat(''))
        .call(a => a.select('.domain').remove())
        .call(a => a.selectAll('line').attr('stroke', ink).attr('stroke-width', 3.2));

    const xa = g.append('g')
        .attr('transform', `translate(0,${y1})`)
        .call(d3.axisBottom(x).tickValues(yearsMajor).tickFormat(d3.format('d'))
            .tickSize(24).tickSizeOuter(24).tickPadding(15));
    xa.select('.domain').attr('stroke', ink).attr('stroke-width', 5);
    xa.selectAll('line').attr('stroke', ink).attr('stroke-width', 3.2);
    xa.selectAll('text').style('font-size', '50px').attr('fill', ink);

    const ya = g.append('g')
        .attr('transform', `translate(${x0},0)`)
        .call(d3.axisLeft(y).tickValues(yTicks[i]).tickSize(23).tickSizeOuter(0).tickPadding(16));
    ya.select('.domain').attr('stroke', ink).attr('stroke-width', 5);
    ya.selectAll('line').attr('stroke', ink).attr('stroke-width', 3.2);
    ya.selectAll('text').style('font-size', '50px').attr('fill', ink);

    g.append('text')
        .attr('x', (x0 + x1) / 2)
        .attr('y', y0 - 25)
        .attr('text-anchor', 'middle')
        .style('font-size', '70px')
        .text(titles[i]);

    g.append('text')
        .attr('transform', `translate(${x0 - 146},${(y0 + y1) / 2}) rotate(-90)`)
        .attr('text-anchor', 'middle')
        .style('font-size', '70px')
        .text(yLabel);
});
</script>
</body>
</html>
